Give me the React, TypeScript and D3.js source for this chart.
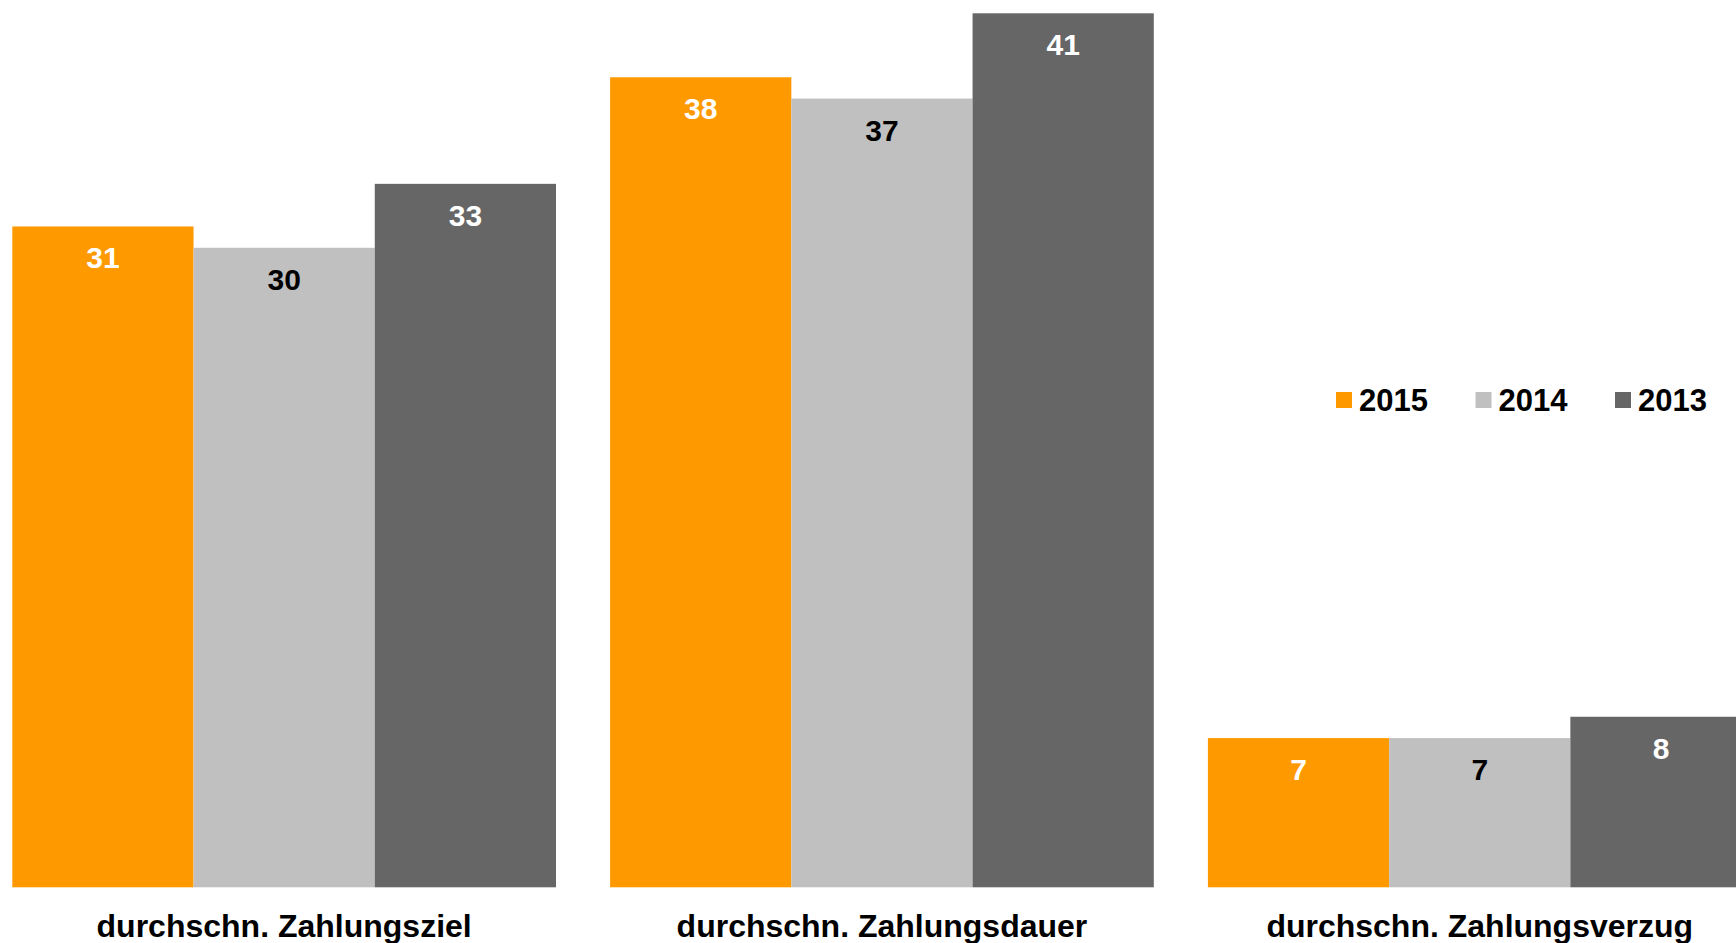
import React from "react";
import * as d3 from "d3";

const categories = [
  "durchschn. Zahlungsziel",
  "durchschn. Zahlungsdauer",
  "durchschn. Zahlungsverzug",
];
const series = ["2015", "2014", "2013"];
const values2015 = [31, 38, 7];
const values2014 = [30, 37, 7];
const values2013 = [33, 41, 8];
const seriesColors = ["#FF9900", "#C0C0C0", "#666666"];
const labelColors = ["#FFFFFF", "#000000", "#FFFFFF"];

const W = 1736;
const H = 943;
const FONT = "'Liberation Sans', Arial, Helvetica, sans-serif";

export default function App() {
  const seriesValues = [values2015, values2014, values2013];

  const x0 = d3
    .scaleBand<string>()
    .domain(categories)
    .range([12.3, 1751.6])
    .paddingInner(0.0905)
    .paddingOuter(0);
  const x1 = d3
    .scaleBand<string>()
    .domain(series)
    .range([0, x0.bandwidth()])
    .padding(0);
  const y = d3.scaleLinear().domain([0, 41]).range([887.3, 13.3]);

  const legendX = [1336, 1475.5, 1615];

  return (
    <svg
      width={W}
      height={H}
      style={{ position: "absolute", left: 0, top: 0, display: "block" }}
      fontFamily={FONT}
      fontWeight="bold"
    >
      <rect x={0} y={0} width={W} height={H} fill="#FFFFFF" />
      {categories.map((cat, ci) => (
        <g key={cat} transform={`translate(${x0(cat)},0)`}>
          {series.map((s, si) => {
            const v = seriesValues[si][ci];
            const bx = x1(s)!;
            const by = y(v);
            return (
              <g key={s}>
                <rect
                  x={bx}
                  y={by}
                  width={x1.bandwidth()}
                  height={y(0) - by}
                  fill={seriesColors[si]}
                />
                <text
                  x={bx + x1.bandwidth() / 2}
                  y={by + 42}
                  textAnchor="middle"
                  fontSize={30}
                  fill={labelColors[si]}
                >
                  {v}
                </text>
              </g>
            );
          })}
          <text
            x={x0.bandwidth() / 2}
            y={937}
            textAnchor="middle"
            fontSize={32}
            fill="#000000"
          >
            {cat}
          </text>
        </g>
      ))}
      {series.map((s, si) => (
        <g key={s} transform={`translate(${legendX[si]},0)`}>
          <rect x={0} y={392} width={16} height={16} fill={seriesColors[si]} />
          <text x={23} y={410.7} fontSize={31} fill="#000000">
            {s}
          </text>
        </g>
      ))}
    </svg>
  );
}
